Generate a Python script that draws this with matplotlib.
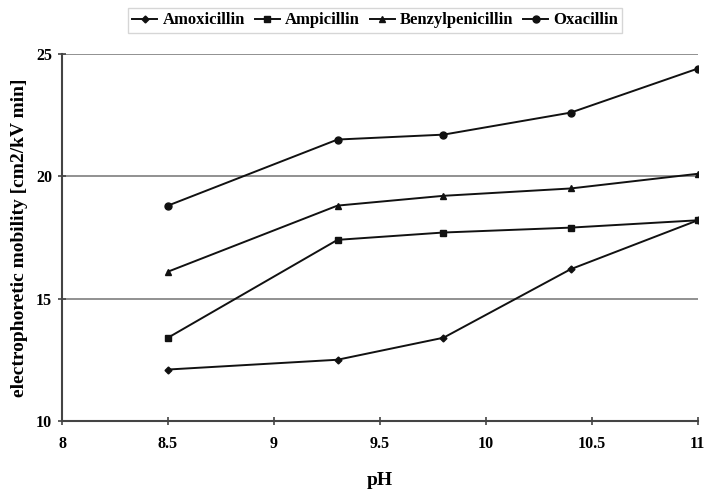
import numpy as np
import matplotlib
matplotlib.use("Agg")
import matplotlib.pyplot as plt

plt.rcParams['font.family'] = ['Liberation Serif', 'DejaVu Serif']
plt.rcParams['font.weight'] = 'bold'

ph = [8.5, 9.3, 9.8, 10.4, 11.0]
amoxicillin = [12.1, 12.5, 13.4, 16.2, 18.2]
ampicillin = [13.4, 17.4, 17.7, 17.9, 18.2]
benzylpenicillin = [16.1, 18.8, 19.2, 19.5, 20.1]
oxacillin = [18.8, 21.5, 21.7, 22.6, 24.4]

series = [("Amoxicillin", amoxicillin, "D", 3.5),
          ("Ampicillin", ampicillin, "s", 4.5),
          ("Benzylpenicillin", benzylpenicillin, "^", 4.5),
          ("Oxacillin", oxacillin, "o", 5)]

fig = plt.figure(figsize=(7.08, 4.9), dpi=100)
ax = fig.add_axes([0.0876, 0.141, 0.898, 0.749])

for name, vals, mk, ms in series:
    ax.plot(ph, vals, color="#111111", lw=1.4, marker=mk, markersize=ms, label=name)

ax.set_xlim(8, 11)
ax.set_ylim(10, 25)
ax.set_xticks([8, 8.5, 9, 9.5, 10, 10.5, 11])
ax.set_xticklabels(["8", "8.5", "9", "9.5", "10", "10.5", "11"])
ax.set_yticks([10, 15, 20, 25])
for y in [15, 20, 25]:
    ax.axhline(y, color="#888888", lw=1.3, zorder=0)

for s in ["top", "right"]:
    ax.spines[s].set_visible(False)
for s in ["left", "bottom"]:
    ax.spines[s].set_color("#444444")
    ax.spines[s].set_linewidth(1.5)
ax.tick_params(direction="inout", length=6, width=1.2, color="#444444", labelsize=11.5)
ax.tick_params(axis="x", pad=8)
ax.tick_params(axis="y", pad=4)

ax.set_xlabel("pH", fontsize=14, fontweight="bold", labelpad=14)
ax.set_ylabel("electrophoretic mobility [cm2/kV min]", fontsize=14, fontweight="bold", labelpad=6)

fig.legend(loc="upper center", bbox_to_anchor=(0.53, 1.0), ncol=4, frameon=True,
           fancybox=False, edgecolor="#cccccc", fontsize=12, handlelength=1.5,
           handletextpad=0.3, columnspacing=0.6, borderpad=0.25)

fig.savefig("out.png", dpi=100)
